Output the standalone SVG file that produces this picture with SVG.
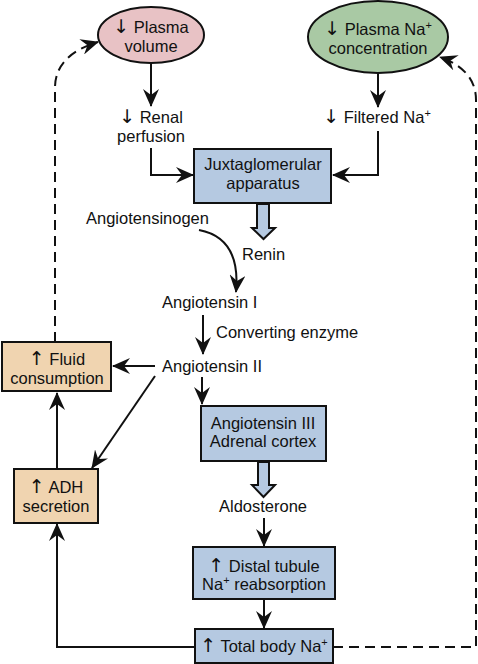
<svg xmlns="http://www.w3.org/2000/svg" width="478" height="664" viewBox="0 0 478 664">
<style>
text{font-family:"Liberation Sans",Arial,sans-serif;font-size:16.5px;fill:#111;}
.c{text-anchor:middle;}
.sup{font-size:11px;}
.ar{font-family:"DejaVu Sans",sans-serif;font-size:19px;}
.blue{fill:#b5c9e1;stroke:#111;stroke-width:2;}
.tan{fill:#f0d4b0;stroke:#111;stroke-width:2;}
.ln{fill:none;stroke:#111;stroke-width:2;}
.dash{fill:none;stroke:#111;stroke-width:2;stroke-dasharray:10,6;}
.hollow{fill:#b5c9e1;stroke:#111;stroke-width:2;stroke-linejoin:miter;}
</style>
<defs>
<marker id="ah" viewBox="0 0 18 16" refX="17" refY="8" markerWidth="18" markerHeight="16" markerUnits="userSpaceOnUse" orient="auto">
<path d="M0,0 L18,8 L0,16 L6,8 z" fill="#111"/>
</marker>
</defs>
<g id="connectors">
<line class="ln" x1="151" y1="63" x2="151" y2="106" marker-end="url(#ah)"/>
<line class="ln" x1="378" y1="74" x2="378" y2="107" marker-end="url(#ah)"/>
<polyline class="ln" points="151,148 151,175 193,175" marker-end="url(#ah)"/>
<polyline class="ln" points="378,131 378,175 333,175" marker-end="url(#ah)"/>
<path class="hollow" d="M257,204 L257,228 L252,228 L263.5,239 L275,228 L269,228 L269,204 z"/>
<path class="ln" d="M199,230 Q241,238 236,292" marker-end="url(#ah)"/>
<line class="ln" x1="203" y1="315" x2="203" y2="354" marker-end="url(#ah)"/>
<line class="ln" x1="155" y1="366" x2="113" y2="366" marker-end="url(#ah)"/>
<line class="ln" x1="155" y1="376" x2="92" y2="468" marker-end="url(#ah)"/>
<line class="ln" x1="202" y1="377" x2="202" y2="404" marker-end="url(#ah)"/>
<path class="hollow" d="M258,462 L258,485 L252,485 L263.5,497 L275,485 L269,485 L269,462 z"/>
<line class="ln" x1="57" y1="469" x2="57" y2="393" marker-end="url(#ah)"/>
<line class="ln" x1="264" y1="518" x2="264" y2="546" marker-end="url(#ah)"/>
<line class="ln" x1="264" y1="600" x2="264" y2="628" marker-end="url(#ah)"/>
<polyline class="ln" points="195,647 57,647 57,524" marker-end="url(#ah)"/>
<path class="dash" d="M55,342 L55,88 Q55,55 98,42" marker-end="url(#ah)"/>
<path class="dash" d="M333,647 L476,647 L476,100 Q476,70 440,57" marker-end="url(#ah)"/>
</g>
<g id="plasma-volume">
<ellipse cx="151" cy="35" rx="53" ry="28" fill="#e8c2c5" stroke="#111" stroke-width="2"/>
<text class="c" x="151" y="33"><tspan class="ar">↓</tspan> Plasma</text>
<text class="c" x="151" y="52">volume</text>
</g>
<g id="plasma-na">
<ellipse cx="378" cy="37" rx="70" ry="36" fill="#a9c9a4" stroke="#111" stroke-width="2"/>
<text class="c" x="378" y="35"><tspan class="ar">↓</tspan> Plasma Na<tspan class="sup" dy="-6">+</tspan></text>
<text class="c" x="378" y="54">concentration</text>
</g>
<g id="renal-perfusion">
<text class="c" x="151" y="123"><tspan class="ar">↓</tspan> Renal</text>
<text class="c" x="151" y="142">perfusion</text>
</g>
<g id="filtered-na">
<text class="c" x="377" y="123"><tspan class="ar">↓</tspan> Filtered Na<tspan class="sup" dy="-6">+</tspan></text>
</g>
<g id="jg-apparatus">
<rect class="blue" x="194" y="149" width="137" height="54"/>
<text class="c" x="263" y="170">Juxtaglomerular</text>
<text class="c" x="263" y="189">apparatus</text>
</g>
<g id="angiotensinogen"><text x="86" y="224">Angiotensinogen</text></g>
<g id="renin"><text x="242" y="260">Renin</text></g>
<g id="angiotensin-1"><text x="162" y="308">Angiotensin I</text></g>
<g id="converting-enzyme"><text x="216" y="338">Converting enzyme</text></g>
<g id="angiotensin-2"><text x="162" y="372">Angiotensin II</text></g>
<g id="fluid-consumption">
<rect class="tan" x="2" y="342" width="109" height="49"/>
<text class="c" x="57" y="365"><tspan class="ar">↑</tspan> Fluid</text>
<text class="c" x="57" y="384">consumption</text>
</g>
<g id="angiotensin-3">
<rect class="blue" x="201" y="406" width="125" height="55"/>
<text class="c" x="263" y="429">Angiotensin III</text>
<text class="c" x="263" y="447">Adrenal cortex</text>
</g>
<g id="adh-secretion">
<rect class="tan" x="14" y="469" width="84" height="54"/>
<text class="c" x="56" y="493"><tspan class="ar">↑</tspan> ADH</text>
<text class="c" x="56" y="512">secretion</text>
</g>
<g id="aldosterone"><text class="c" x="263" y="512">Aldosterone</text></g>
<g id="distal-tubule">
<rect class="blue" x="193" y="547" width="142" height="52"/>
<text class="c" x="264" y="572"><tspan class="ar">↑</tspan> Distal tubule</text>
<text class="c" x="264" y="590">Na<tspan class="sup" dy="-6">+</tspan><tspan dy="6"> reabsorption</tspan></text>
</g>
<g id="total-body-na">
<rect class="blue" x="195" y="629" width="138" height="34"/>
<text class="c" x="264" y="652"><tspan class="ar">↑</tspan> Total body Na<tspan class="sup" dy="-6">+</tspan></text>
</g>
</svg>
